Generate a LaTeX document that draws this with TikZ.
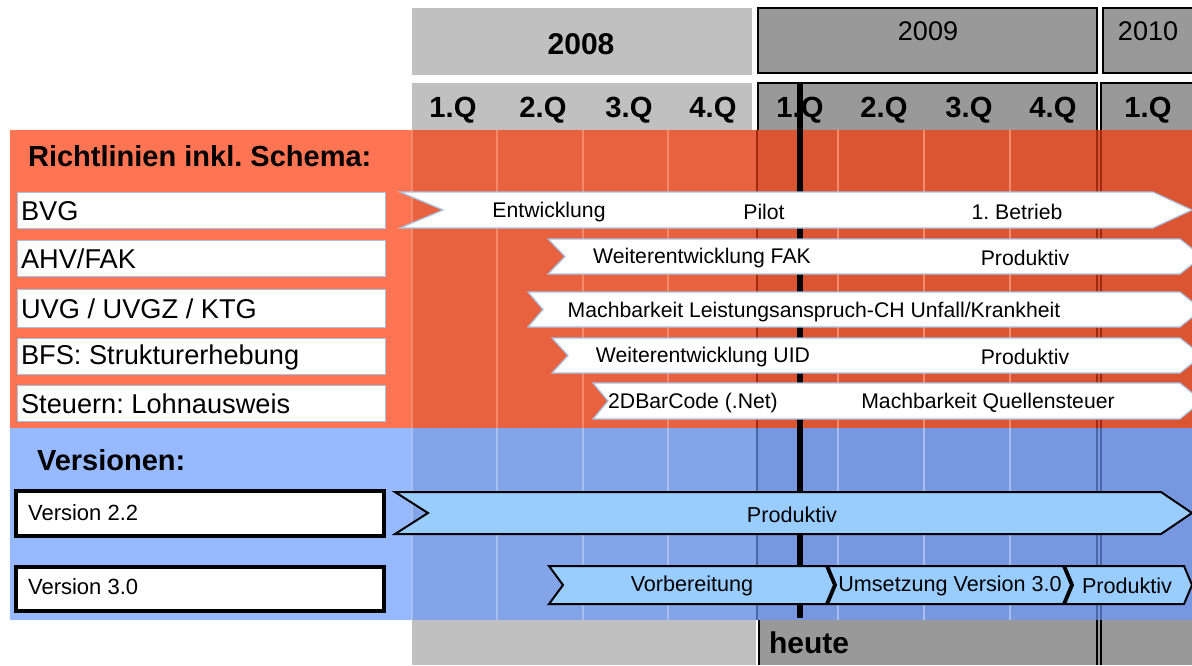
\documentclass[tikz,border=0pt]{standalone}
\usepackage{fontspec}
\setmainfont{Liberation Sans}
\definecolor{lgray}{HTML}{C0C0C0}
\definecolor{dgray}{HTML}{999999}
\definecolor{redL}{HTML}{FF7452}
\definecolor{redM}{HTML}{E9623F}
\definecolor{redD}{HTML}{DC5533}
\definecolor{redGrid}{HTML}{F48A6A}
\definecolor{redLine}{HTML}{A02A10}
\definecolor{blueL}{HTML}{97B9FF}
\definecolor{blueM}{HTML}{84A4EA}
\definecolor{blueD}{HTML}{7797E0}
\definecolor{blueGrid}{HTML}{A6BEF2}
\definecolor{blueLine}{HTML}{4A68A8}
\definecolor{chevBlue}{HTML}{99CCFF}
\definecolor{boxEdge}{HTML}{A8C0E0}
\newcommand\chevshape[7]{\draw[#1] (#2,#4) -- ({#3-#7},#4) -- (#3,{(#4+#5)/2}) -- ({#3-#7},#5) -- (#2,#5) -- ({#2+#6},{(#4+#5)/2}) -- cycle;}
\tikzset{
  yearbox/.style={draw=black,line width=1pt,fill=dgray},
  qlabel/.style={font=\bfseries\fontsize{14.6}{16}\selectfont},
  rowbox/.style={draw=boxEdge,line width=0.5pt,fill=white},
  rowtext/.style={font=\fontsize{13.6}{15}\selectfont,anchor=west},
  verbox/.style={draw=black,line width=2pt,fill=white},
  vertext/.style={font=\fontsize{11}{13}\selectfont,anchor=west},
  whitechev/.style={draw=boxEdge,line width=0.6pt,fill=white},
  bluechev/.style={draw=black,line width=1pt,fill=chevBlue},
  chevtext/.style={font=\fontsize{10.6}{12}\selectfont},
  bluetext/.style={font=\fontsize{10.8}{12}\selectfont},
  sechead/.style={font=\bfseries\fontsize{14.5}{16}\selectfont,anchor=west},
}
\begin{document}
\frenchspacing
\begin{tikzpicture}[x=0.5pt,y=-0.5pt]
\useasboundingbox (0,0) rectangle (1192,665);
\clip (0,0) rectangle (1192,665);
\fill[white] (0,0) rectangle (1192,665);
% year header
\fill[lgray] (412,8) rectangle (752,75);
\node[font=\bfseries\fontsize{15}{17}\selectfont] (y2008) at (581,44) {2008};
\draw[yearbox] (758,8) rectangle (1097,73);
\node[font=\fontsize{13.5}{15}\selectfont] (y2009) at (928,31) {2009};
\draw[yearbox] (1103,8) rectangle (1210,73);
\node[font=\fontsize{13.5}{15}\selectfont] (y2010) at (1148,31) {2010};
% quarter header
\fill[lgray] (412,83) rectangle (752,140);
\draw[yearbox] (758,83) rectangle (1097,140);
\draw[yearbox] (1101,83) rectangle (1210,140);
\node[qlabel] (q1) at (453,110) {1.Q};
\node[qlabel] (q2) at (543,110) {2.Q};
\node[qlabel] (q3) at (629,110) {3.Q};
\node[qlabel] (q4) at (713,110) {4.Q};
\node[qlabel] (q5) at (800,110) {1.Q};
\node[qlabel] (q6) at (884,110) {2.Q};
\node[qlabel] (q7) at (969,110) {3.Q};
\node[qlabel] (q8) at (1053,110) {4.Q};
\node[qlabel] (q9) at (1148,110) {1.Q};
% red section
\fill[redL] (10,130) rectangle (412,428);
\fill[redM] (412,130) rectangle (757,428);
\fill[redD] (757,130) rectangle (1192,428);
% blue section
\fill[blueL] (10,428) rectangle (412,620);
\fill[blueM] (412,428) rectangle (757,620);
\fill[blueD] (757,428) rectangle (1192,620);
% grid lines
\foreach \x in {412,497,583,668,838,924,1010} {
  \draw[redGrid,line width=0.6pt] (\x,130) -- (\x,428);
  \draw[blueGrid,line width=0.6pt] (\x,428) -- (\x,620);
}
\foreach \x in {757,1097,1101} {
  \draw[redLine,line width=0.9pt] (\x,130) -- (\x,428);
  \draw[blueLine,line width=0.9pt] (\x,428) -- (\x,620);
}
% bottom bar
\fill[lgray] (412,620) rectangle (757,665);
\fill[dgray] (759,620) rectangle (1192,665);
\draw[white,line width=1pt] (757,620) -- (757,665);
\draw[black,line width=1pt] (759,620) -- (759,665);
\draw[black,line width=0.8pt] (1097,620) -- (1097,665) (1101,620) -- (1101,665);
\node[font=\bfseries\fontsize{15}{17}\selectfont,anchor=west] (heute) at (762,643) {heute};
% today line
\coordinate (ltop) at (800,83);
\coordinate (lbot) at (800,618);
\draw[black,line width=3pt] (ltop) -- (lbot);
% section headings
\node[sechead] (rl) at (21,156) {Richtlinien inkl. Schema:};
\node[sechead] (vs) at (30,460) {Versionen:};
% row labels
\draw[rowbox] (17,192) rectangle (385,228);
\node[rowtext] (r1) at (14,211) {BVG};
\draw[rowbox] (17,240) rectangle (385,276);
\node[rowtext] (r2) at (14,259) {AHV/FAK};
\draw[rowbox] (17,289) rectangle (385,327);
\node[rowtext] (r3) at (14,309) {UVG / UVGZ / KTG};
\draw[rowbox] (17,338) rectangle (385,374);
\node[rowtext] (r4) at (14,357) {BFS: Strukturerhebung};
\draw[rowbox] (17,385) rectangle (385,421);
\node[rowtext] (r5) at (14,404) {Steuern: Lohnausweis};
% white chevrons
\chevshape{whitechev}{400}{1192}{192}{228}{43}{39}
\chevshape{whitechev}{548}{1202}{239}{274}{17}{22}
\chevshape{whitechev}{528}{1202}{292}{327}{15}{22}
\chevshape{whitechev}{552}{1202}{338}{373}{16}{22}
\chevshape{whitechev}{593}{1202}{383}{419}{15}{22}
\node[chevtext] (t1a) at (549,212) {Entwicklung};
\node[chevtext] (t1b) at (764,212) {Pilot};
\node[chevtext] (t1c) at (1017,212) {1. Betrieb};
\node[chevtext] (t2a) at (702,258) {Weiterentwicklung FAK};
\node[chevtext] (t2b) at (1025,258) {Produktiv};
\node[chevtext] (t3a) at (814,312) {Machbarkeit Leistungsanspruch-CH Unfall/Krankheit};
\node[chevtext] (t4a) at (703,357) {Weiterentwicklung UID};
\node[chevtext] (t4b) at (1025,357) {Produktiv};
\node[chevtext] (t5a) at (693,403) {2DBarCode (.Net)};
\node[chevtext] (t5b) at (988,403) {Machbarkeit Quellensteuer};
% version boxes
\draw[verbox] (16,491) rectangle (384,536);
\node[vertext] (v22) at (21,513) {Version 2.2};
\draw[verbox] (16,567) rectangle (384,611);
\node[vertext] (v30) at (21,587) {Version 3.0};
% blue chevrons
\chevshape{bluechev}{395}{1192}{492}{534}{33}{31}
\chevshape{bluechev}{549}{834}{566}{604}{14}{8}
\chevshape{bluechev}{828}{1071}{566}{604}{8}{8}
\chevshape{bluechev}{1065}{1192}{566}{604}{8}{8}
\node[bluetext] (b1) at (792,515) {Produktiv};
\node[bluetext] (b2) at (692,586) {Vorbereitung};
\node[bluetext] (b3) at (950,586) {Umsetzung Version 3.0};
\node[bluetext] (b4) at (1127,586) {Produktiv};
\end{tikzpicture}
\end{document}
